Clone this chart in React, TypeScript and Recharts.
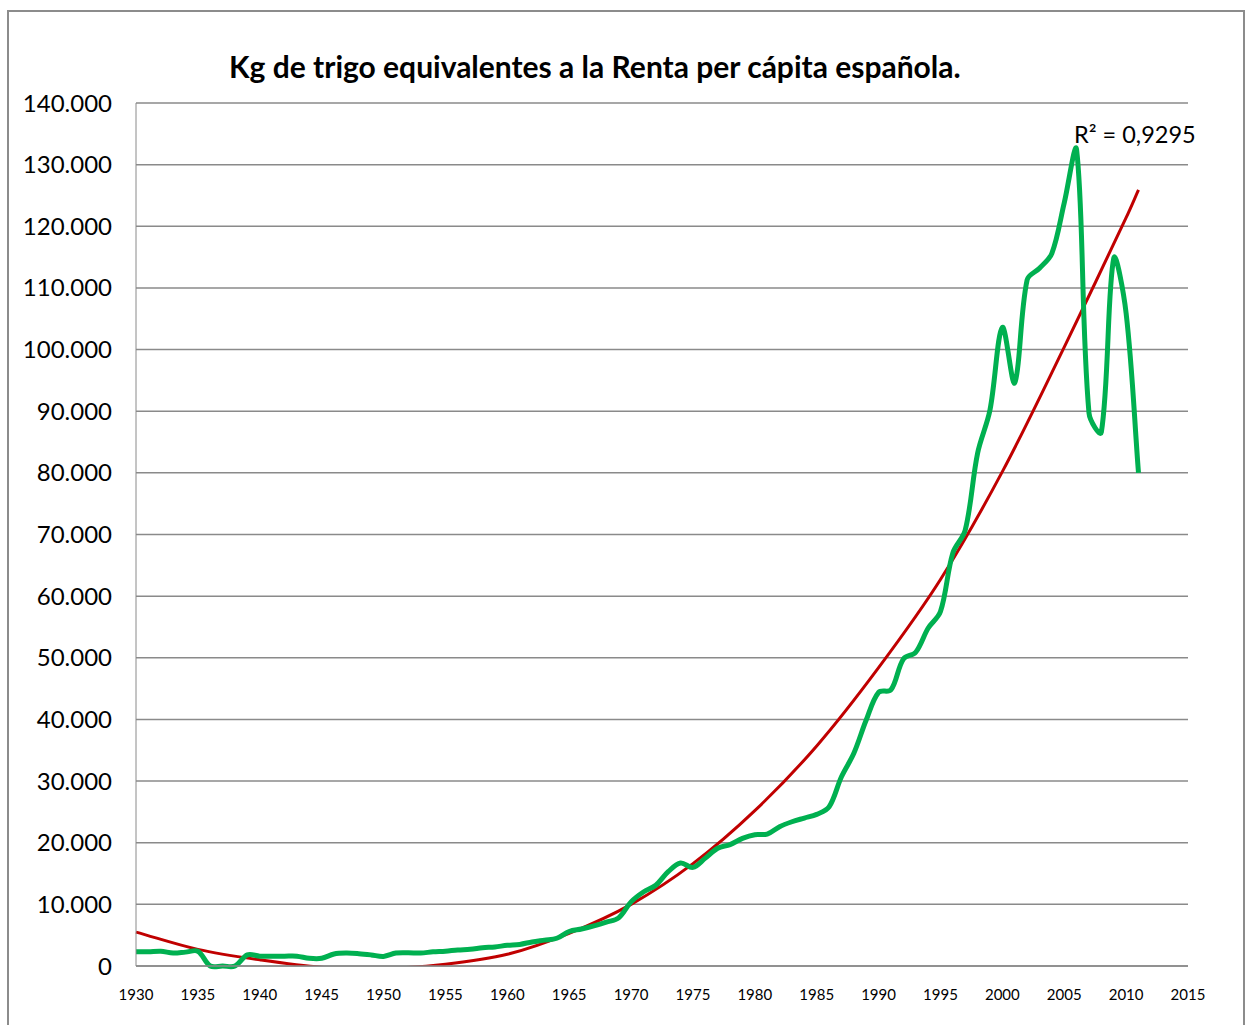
import React from 'react';
import { LineChart, Line, XAxis, YAxis, CartesianGrid } from 'recharts';

const years = [
  1930, 1931, 1932, 1933, 1934, 1935, 1936, 1937, 1938, 1939,
  1940, 1941, 1942, 1943, 1944, 1945, 1946, 1947, 1948, 1949,
  1950, 1951, 1952, 1953, 1954, 1955, 1956, 1957, 1958, 1959,
  1960, 1961, 1962, 1963, 1964, 1965, 1966, 1967, 1968, 1969,
  1970, 1971, 1972, 1973, 1974, 1975, 1976, 1977, 1978, 1979,
  1980, 1981, 1982, 1983, 1984, 1985, 1986, 1987, 1988, 1989,
  1990, 1991, 1992, 1993, 1994, 1995, 1996, 1997, 1998, 1999,
  2000, 2001, 2002, 2003, 2004, 2005, 2006, 2007, 2008, 2009,
  2010, 2011,
];

// kg de trigo
const kgTrigo = [
  2300, 2300, 2400, 2100, 2250, 2400, 0, 0, 0, 1800,
  1600, 1600, 1600, 1600, 1250, 1250, 1950, 2100, 2000, 1800,
  1550, 2100, 2150, 2100, 2300, 2400, 2600, 2700, 2950, 3100,
  3350, 3500, 3900, 4200, 4500, 5600, 6000, 6500, 7100, 7800,
  10400, 12000, 13100, 15300, 16700, 16000, 17500, 19100, 19700, 20700,
  21300, 21400, 22600, 23400, 24000, 24600, 25800, 30700, 34500, 39900,
  44400, 44800, 49800, 50900, 54800, 57500, 67000, 70700, 83200, 90200,
  103600, 94600, 111300, 113200, 115600, 123800, 132400, 89700, 86600, 114800,
  105900, 80000,
];

// tendencia polinómica
const trendYears = [1930, 1935, 1940, 1945, 1950, 1955, 1960, 1965, 1970, 1975, 1980, 1985, 1990, 1995, 2000, 2005, 2010, 2011];
const trendValues = [5500, 2700, 1000, -200, -400, 300, 1900, 5300, 10000, 16600, 25200, 35700, 48400, 62700, 80200, 100400, 121400, 125900];

const yTicks = [0, 10000, 20000, 30000, 40000, 50000, 60000, 70000, 80000, 90000, 100000, 110000, 120000, 130000, 140000];
const xTicks = [1930, 1935, 1940, 1945, 1950, 1955, 1960, 1965, 1970, 1975, 1980, 1985, 1990, 1995, 2000, 2005, 2010, 2015];

const title = 'Kg de trigo equivalentes a la Renta per cápita española.';
const r2Label = 'R² = 0,9295';

const serie = years.map((year, i) => ({ year, kg: kgTrigo[i] }));
const tendencia = trendYears.map((year, i) => ({ year, trend: trendValues[i] }));

const miles = (v: number) => String(v).replace(/\B(?=(\d{3})+(?!\d))/g, '.');

// suavizado parecido al de Excel: tangentes repartidas según la longitud de cada tramo
const excelSmooth = (context: any) => {
  let pts: number[][] = [];
  const t = 0.34;
  return {
    areaStart() {},
    areaEnd() {},
    lineStart() { pts = []; },
    point(x: number, y: number) { pts.push([+x, +y]); },
    lineEnd() {
      const n = pts.length;
      if (!n) return;
      const cIn: number[][] = [];
      const cOut: number[][] = [];
      for (let i = 0; i < n; i++) {
        const p0 = pts[i - 1] || pts[i];
        const p1 = pts[i];
        const p2 = pts[i + 1] || pts[i];
        const d01 = Math.hypot(p1[0] - p0[0], p1[1] - p0[1]);
        const d12 = Math.hypot(p2[0] - p1[0], p2[1] - p1[1]);
        const s = d01 + d12 || 1;
        const fa = (t * d01) / s;
        const fb = (t * d12) / s;
        cIn.push([p1[0] - fa * (p2[0] - p0[0]), p1[1] - fa * (p2[1] - p0[1])]);
        cOut.push([p1[0] + fb * (p2[0] - p0[0]), p1[1] + fb * (p2[1] - p0[1])]);
      }
      context.moveTo(pts[0][0], pts[0][1]);
      for (let i = 0; i < n - 1; i++) {
        context.bezierCurveTo(cOut[i][0], cOut[i][1], cIn[i + 1][0], cIn[i + 1][1], pts[i + 1][0], pts[i + 1][1]);
      }
    },
  };
};

const font = 'Lato, Carlito, Calibri, sans-serif';

export default function App() {
  return (
    <div style={{ position: 'absolute', left: 0, top: 0, width: 1248, height: 1025, background: '#fff', fontFamily: font, overflow: 'hidden' }}>
      <div style={{ position: 'absolute', left: 7, top: 10, width: 1238, height: 1030, border: '2px solid #8c8c8c', boxSizing: 'border-box' }} />
      <div style={{ position: 'absolute', left: 229, top: 48, fontSize: 30, fontWeight: 700, color: '#000', whiteSpace: 'nowrap' }}>{title}</div>
      <div style={{ position: 'absolute', left: 1074, top: 120, fontSize: 23.5, color: '#000', whiteSpace: 'nowrap' }}>{r2Label}</div>
      <div style={{ position: 'absolute', left: 0, top: 0 }}>
        <LineChart width={1248} height={1025} margin={{ top: 103, right: 60, bottom: 19, left: 0 }}>
          <CartesianGrid vertical={false} stroke="#8a8a8a" strokeWidth={1.5} yAxisId="main" />
          <XAxis
            dataKey="year"
            type="number"
            domain={[1930, 2015]}
            ticks={xTicks}
            allowDuplicatedCategory={false}
            height={40}
            tickLine={false}
            tickSize={0}
            tickMargin={23}
            axisLine={{ stroke: '#8a8a8a', strokeWidth: 1.5 }}
            tick={{ fill: '#000', fontSize: 15, fontFamily: font }}
            interval={0}
          />
          <YAxis
            yAxisId="main"
            type="number"
            domain={[0, 140000]}
            ticks={yTicks}
            width={136}
            tickLine={false}
            tickSize={0}
            tickMargin={24}
            axisLine={{ stroke: '#8a8a8a', strokeWidth: 1 }}
            tickFormatter={miles}
            tick={{ fill: '#000', fontSize: 24, fontFamily: font }}
            interval={0}
          />
          <YAxis yAxisId="trend" hide type="number" domain={[0, 140000]} allowDataOverflow />
          <Line
            yAxisId="trend"
            data={tendencia}
            dataKey="trend"
            type={excelSmooth as any}
            stroke="#c00000"
            strokeWidth={3}
            dot={false}
            isAnimationActive={false}
          />
          <Line
            yAxisId="main"
            data={serie}
            dataKey="kg"
            type={excelSmooth as any}
            stroke="#00b050"
            strokeWidth={5}
            dot={false}
            isAnimationActive={false}
          />
        </LineChart>
      </div>
    </div>
  );
}
